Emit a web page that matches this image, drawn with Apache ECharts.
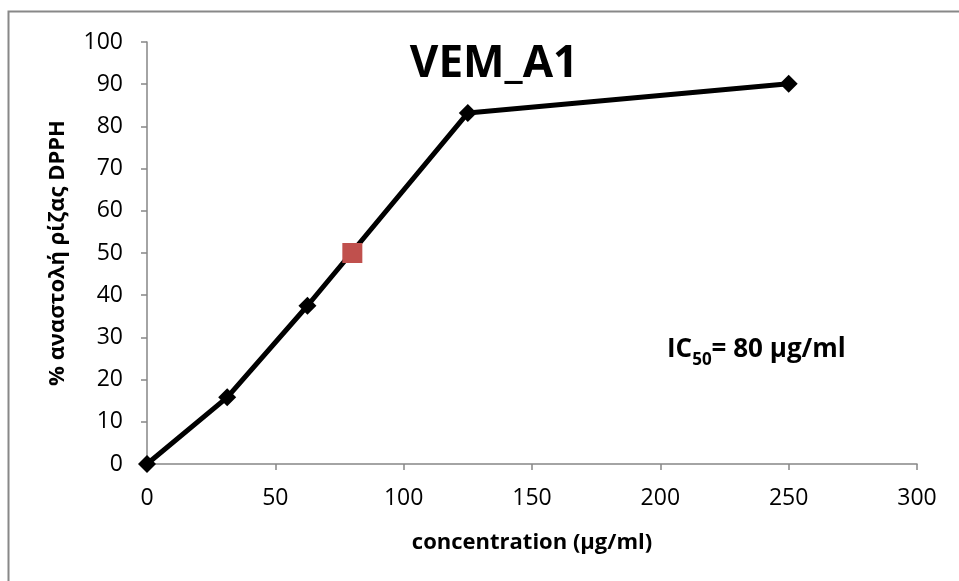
<!DOCTYPE html>
<html>
<head>
<meta charset="utf-8">
<script src="https://cdn.jsdelivr.net/npm/echarts@6/dist/echarts.min.js"></script>
<style>html,body{margin:0;padding:0;background:#fff;}#c{width:959px;height:581px;}</style>
</head>
<body>
<div id="c"></div>
<script>
const concentrations = [0, 31.25, 62.5, 125, 250];
const inhibition = [0, 15.8, 37.5, 83.2, 90.1];
const ic50Point = [80, 50];
const xTicks = [0, 50, 100, 150, 200, 250, 300];
const yTicks = [0, 10, 20, 30, 40, 50, 60, 70, 80, 90, 100];

const FONT = '"Open Sans", "Noto Sans", sans-serif';
const chart = echarts.init(document.getElementById('c'), null, {renderer: 'canvas'});
chart.setOption({
  animation: false,
  backgroundColor: '#fff',
  title: {
    text: 'VEM_A1',
    left: 489, top: 37, textAlign: 'center',
    textStyle: {fontFamily: FONT, fontSize: 44, fontWeight: 'bold', color: '#000'}
  },
  grid: {left: 147, right: 42, top: 42, bottom: 117, containLabel: false},
  xAxis: {
    type: 'value', min: xTicks[0], max: xTicks[xTicks.length - 1], interval: 50,
    name: 'concentration (μg/ml)', nameLocation: 'middle', nameGap: 68,
    nameTextStyle: {fontFamily: FONT, fontSize: 22, fontWeight: 'bold', color: '#000'},
    axisLine: {show: true, lineStyle: {color: '#868686', width: 1.5}},
    axisTick: {show: true, length: 6, lineStyle: {color: '#868686', width: 1.5}},
    axisLabel: {fontFamily: FONT, fontSize: 23, color: '#000', margin: 23},
    splitLine: {show: false}
  },
  yAxis: {
    type: 'value', min: yTicks[0], max: yTicks[yTicks.length - 1], interval: 10,
    name: '% αναστολή ρίζας DPPH', nameLocation: 'middle', nameGap: 78, nameRotate: 90,
    nameTextStyle: {fontFamily: FONT, fontSize: 22, fontWeight: 'bold', color: '#000'},
    axisLine: {show: true, lineStyle: {color: '#868686', width: 1.5}},
    axisTick: {show: true, length: 6, lineStyle: {color: '#868686', width: 1.5}},
    axisLabel: {fontFamily: FONT, fontSize: 23, color: '#000', margin: 24},
    splitLine: {show: false}
  },
  series: [
    {
      type: 'line',
      data: concentrations.map((c, i) => [c, inhibition[i]]),
      symbol: 'diamond', symbolSize: 18, showAllSymbol: true,
      lineStyle: {color: '#000', width: 5},
      itemStyle: {color: '#000'},
      z: 2
    },
    {
      type: 'scatter',
      data: [ic50Point],
      symbol: 'rect', symbolSize: 20,
      itemStyle: {color: '#C0504D', opacity: 1},
      z: 3
    }
  ],
  graphic: [
    {
      type: 'rect', silent: true, z: -1,
      shape: {x: 8.5, y: 11.5, width: 1000, height: 700},
      style: {fill: 'none', stroke: '#888', lineWidth: 2}
    },
    {
      type: 'text', left: 667, top: 337,
      style: {
        text: '{a|IC}{s|50}{a|= 80 μg/ml}',
        rich: {
          a: {fontFamily: FONT, fontSize: 26, fontWeight: 'bold', fill: '#000', verticalAlign: 'bottom'},
          s: {fontFamily: FONT, fontSize: 17, fontWeight: 'bold', fill: '#000', verticalAlign: 'bottom', padding: [0, 0, -6, 0]}
        }
      }
    }
  ]
});
</script>
</body>
</html>
